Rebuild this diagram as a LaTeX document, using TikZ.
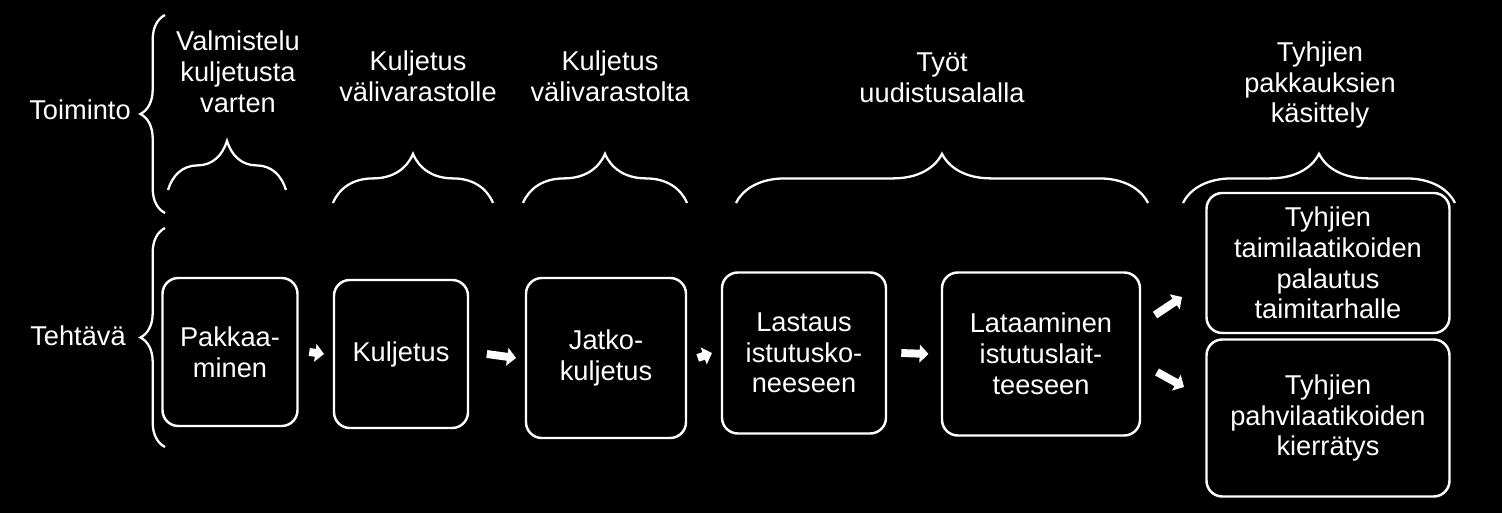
\documentclass[tikz,border=0pt]{standalone}
\usepackage{fontspec}
\setmainfont{Liberation Sans}
\usetikzlibrary{arrows.meta,decorations.pathreplacing}
\tikzset{
  task/.style={draw=white,line width=1.4pt,rounded corners=9pt,fill=black,text=white,align=center,inner sep=0pt},
  lbl/.style={text=white,align=center},
  brc/.style={draw=white,line width=1.3pt,decorate,decoration={brace,amplitude=#1}},
  blk/.style={white,line width=4.5pt,-{Triangle[length=5pt,width=10pt]}}
}
\begin{document}
\begin{tikzpicture}[x=0.02cm,y=-0.02cm,font=\fontsize{15.5}{17.5}\selectfont]
  \fill[black] (0,0) rectangle (1502,513);
  % tasks
  \node[task,minimum width=135*0.02cm,minimum height=148*0.02cm] (pak) at (230,352) {Pakkaa-\\minen};
  \node[task,minimum width=134*0.02cm,minimum height=148*0.02cm] (kul) at (401,354) {Kuljetus};
  \node[task,minimum width=160*0.02cm,minimum height=160*0.02cm] (jat) at (606,358) {Jatko-\\kuljetus};
  \node[task,minimum width=164*0.02cm,minimum height=161*0.02cm] (las) at (804,353) {Lastaus\\istutusko-\\neeseen};
  \node[task,minimum width=198*0.02cm,minimum height=163*0.02cm] (lat) at (1041,354) {Lataaminen\\istutuslait-\\teeseen};
  \node[task,minimum width=243*0.02cm,minimum height=140*0.02cm] (pal) at (1328,263) {Tyhjien\\taimilaatikoiden\\palautus\\taimitarhalle};
  \node[task,minimum width=243*0.02cm,minimum height=157*0.02cm] (kie) at (1328,418) {Tyhjien\\pahvilaatikoiden\\kierrätys};
  \coordinate (up0) at (1155,315);
  \coordinate (up1) at (1182,297);
  \coordinate (dn0) at (1157,372);
  \coordinate (dn1) at (1184,387);
  % arrows
  \draw[blk] ([xshift=6pt]pak.east) -- ([xshift=-5pt]kul.west);
  \draw[blk] ([xshift=10pt]kul.east) -- ([xshift=-5pt]jat.west);
  \draw[blk] ([xshift=6pt]jat.east) -- ([xshift=-5pt]las.west);
  \draw[blk] ([xshift=8pt]las.east) -- ([xshift=-7pt]lat.west);
  \draw[blk] (up0) -- (up1);
  \draw[blk] (dn0) -- (dn1);
  % braces
  \draw[brc=14pt] (165,213) -- (165,15);
  \draw[brc=14pt] (165,447) -- (165,228);
  \draw[brc=28pt] (168,190) -- (286,190);
  \draw[brc=28pt] (333,203) -- (493,203);
  \draw[brc=28pt] (523,203) -- (687,203);
  \draw[brc=28pt] (736,203) -- (1148,203);
  \draw[brc=28pt] (1183,203) -- (1455,203);
  % labels
  \node[lbl] (toi) at (80,110) {Toiminto};
  \node[lbl] (teh) at (78,336) {Tehtävä};
  \node[lbl] (t1) at (238,72) {Valmistelu\\kuljetusta\\varten};
  \node[lbl] (t2) at (418,76) {Kuljetus\\välivarastolle};
  \node[lbl] (t3) at (610,76) {Kuljetus\\välivarastolta};
  \node[lbl] (t4) at (942,78) {Työt\\uudistusalalla};
  \node[lbl] (t5) at (1320,85) {Tyhjien\\pakkauksien\\käsittely};
\end{tikzpicture}
\end{document}
